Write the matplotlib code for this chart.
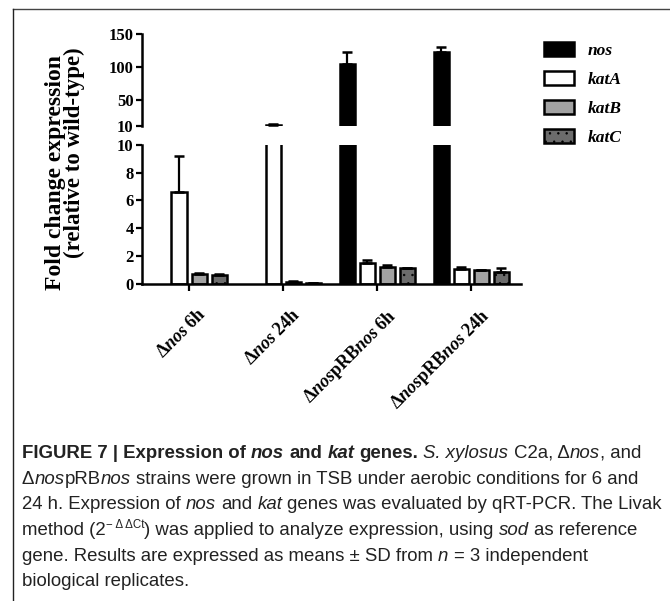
import numpy as np
import matplotlib
matplotlib.use("Agg")
import matplotlib.pyplot as plt
import matplotlib.transforms as mtransforms
from matplotlib.patches import Patch
from matplotlib.lines import Line2D
from matplotlib.font_manager import FontProperties

# ---- data ----
groups = ["Δ$\\mathit{nos}$ 6h", "Δ$\\mathit{nos}$ 24h",
          "Δ$\\mathit{nos}$pRB$\\mathit{nos}$ 6h", "Δ$\\mathit{nos}$pRB$\\mathit{nos}$ 24h"]
genes = ["nos", "katA", "katB", "katC"]

nos_mean = [0.0, 0.0, 104.0, 122.0]
nos_sd = [0.0, 0.0, 19.0, 9.0]
katA_mean = [6.6, 12.5, 1.45, 1.05]
katA_sd = [2.6, 1.2, 0.25, 0.15]
katB_mean = [0.7, 0.12, 1.2, 0.95]
katB_sd = [0.08, 0.03, 0.12, 0.05]
katC_mean = [0.6, 0.05, 1.1, 0.85]
katC_sd = [0.12, 0.02, 0.05, 0.25]

means = [nos_mean, katA_mean, katB_mean, katC_mean]
sds = [nos_sd, katA_sd, katB_sd, katC_sd]
faces = ["black", "white", "#a2a2a2", "#6c6c6c"]
hatches = [None, None, None, ".."]

caption = [
    [("FIGURE 7 | Expression of ", "b"), ("nos", "bi"), (" and ", "b"), ("kat", "bi"),
     (" genes.", "b"), (" S. xylosus", "i"), (" C2a, Δ", "n"), ("nos", "i"), (", and", "n")],
    [("Δ", "n"), ("nos", "i"), ("pRB", "n"), ("nos", "i"),
     (" strains were grown in TSB under aerobic conditions for 6 and", "n")],
    [("24 h. Expression of ", "n"), ("nos", "i"), (" and ", "n"), ("kat", "i"),
     (" genes was evaluated by qRT-PCR. The Livak", "n")],
    [("method (2", "n"), ("− Δ ΔCt", "sup"), (") was applied to analyze expression, using ", "n"),
     ("sod", "i"), (" as reference", "n")],
    [("gene. Results are expressed as means ± SD from ", "n"), ("n", "i"),
     (" = 3 independent", "n")],
    [("biological replicates.", "n")],
]

# ---- style ----
SERIF = "Liberation Serif"
SANS = "Liberation Sans"
plt.rcParams["mathtext.fontset"] = "custom"
plt.rcParams["mathtext.it"] = "Liberation Serif:bold:italic"
plt.rcParams["mathtext.rm"] = "Liberation Serif:bold"
plt.rcParams["hatch.linewidth"] = 0.5
plt.rcParams["hatch.color"] = "#3a3a3a"

W, H = 670, 601
fig = plt.figure(figsize=(W / 100, H / 100), dpi=100)

def fx(px):
    return px / W

def fy(py):
    return 1 - py / H

ax_bot = fig.add_axes([fx(142), fy(283.5), fx(521) - fx(142), fy(145) - fy(283.5)])
ax_top = fig.add_axes([fx(142), fy(126.4), fx(521) - fx(142), fy(34) - fy(126.4)])

x = np.arange(len(groups))
width = 0.16
offsets = np.array([-1.5, -0.5, 0.5, 1.5]) * 0.213

for ax, low in ((ax_bot, 0), (ax_top, 10)):
    for i in range(len(genes)):
        m = np.array(means[i])
        ax.bar(x + offsets[i], m, width, color=faces[i], edgecolor="black",
               linewidth=np.where(m > 0, 1.8, 0), hatch=hatches[i], zorder=2)
        # only the error bars whose bar reaches into this segment
        show = np.where(m > low, m, np.nan)
        ax.errorbar(x + offsets[i], show,
                    yerr=[np.zeros(len(groups)), sds[i]],
                    fmt="none", ecolor="black", elinewidth=1.6,
                    capsize=3.5, capthick=1.8, zorder=3)
    ax.set_xlim(-0.5, 3.53)
    for s in ("top", "right"):
        ax.spines[s].set_visible(False)
    ax.spines["left"].set_linewidth(1.8)
    ax.spines["bottom"].set_linewidth(1.8)
    ax.tick_params(axis="y", length=4.5, width=1.6, labelsize=12, pad=1.5)

ax_bot.set_ylim(0, 10)
ax_bot.set_yticks([0, 2, 4, 6, 8, 10])
ax_top.set_ylim(10, 150)
ax_top.set_yticks([10, 50, 100, 150])
ax_top.spines["bottom"].set_visible(False)
ax_top.tick_params(axis="x", bottom=False, labelbottom=False)

for ax in (ax_bot, ax_top):
    for lab in ax.get_yticklabels():
        lab.set_fontfamily(SERIF)
        lab.set_fontweight("bold")

ax_bot.set_xticks(x)
ax_bot.tick_params(axis="x", length=5, width=1.6, labelbottom=False)
off = mtransforms.ScaledTranslation(0.09, -0.22, fig.dpi_scale_trans)
for xi, g in zip(x, groups):
    ax_bot.text(xi, 0, g, transform=ax_bot.get_xaxis_transform() + off,
                rotation=45, rotation_mode="anchor", ha="right", va="top",
                fontsize=13, fontfamily=SERIF, fontweight="bold")

# y label (two lines)
fig.text(fx(55), fy(172), "Fold change expression", rotation=90, ha="center", va="center",
         fontsize=17, fontfamily=SERIF, fontweight="bold")
fig.text(fx(74), fy(153), "(relative to wild-type)", rotation=90, ha="center", va="center",
         fontsize=16.5, fontfamily=SERIF, fontweight="bold")

# legend
handles = [Patch(facecolor=faces[i], edgecolor="black", linewidth=1.8, hatch=hatches[i])
           for i in range(len(genes))]
fig.legend(handles, genes, loc="upper left", bbox_to_anchor=(fx(544), fy(42)),
           frameon=False, borderpad=0, borderaxespad=0,
           handlelength=1.75, handleheight=0.85, handletextpad=0.75, labelspacing=0.7,
           prop=FontProperties(family=SERIF, weight="bold", style="italic", size=12.5))

# frame lines of the figure panel
fig.add_artist(Line2D([fx(13), 1], [fy(9), fy(9)], color="#444444", lw=1.0))
fig.add_artist(Line2D([fx(13), fx(13)], [fy(9), 0], color="#222222", lw=1.0))

# caption
renderer = fig.canvas.get_renderer()
CAP_SIZE = 13.4

def text_w(s, **kw):
    t = fig.text(0, 0, s, **kw)
    w = t.get_window_extent(renderer=renderer).width
    t.remove()
    return w

space_w = text_w("x x", fontsize=CAP_SIZE, fontfamily=SANS) - text_w("xx", fontsize=CAP_SIZE, fontfamily=SANS)

def rich_line(x0, y0, pieces):
    xp = x0
    for s, st in pieces:
        kw = dict(fontfamily=SANS, fontsize=CAP_SIZE, color="#222222")
        yp = y0
        if "b" in st:
            kw["fontweight"] = "bold"
        if "i" in st:
            kw["fontstyle"] = "italic"
        if st == "sup":
            kw["fontsize"] = CAP_SIZE * 0.62
            yp = y0 - 7.5
        lead = len(s) - len(s.lstrip(" "))
        trail = len(s) - len(s.rstrip(" "))
        core = s.strip(" ")
        xp += lead * space_w
        if core:
            t = fig.text(fx(xp), fy(yp), core, ha="left", va="baseline", **kw)
            xp += t.get_window_extent(renderer=renderer).width
        xp += trail * space_w

for k, line in enumerate(caption):
    rich_line(22, 458 + k * 25.7, line)

fig.savefig("out.png", dpi=100)
